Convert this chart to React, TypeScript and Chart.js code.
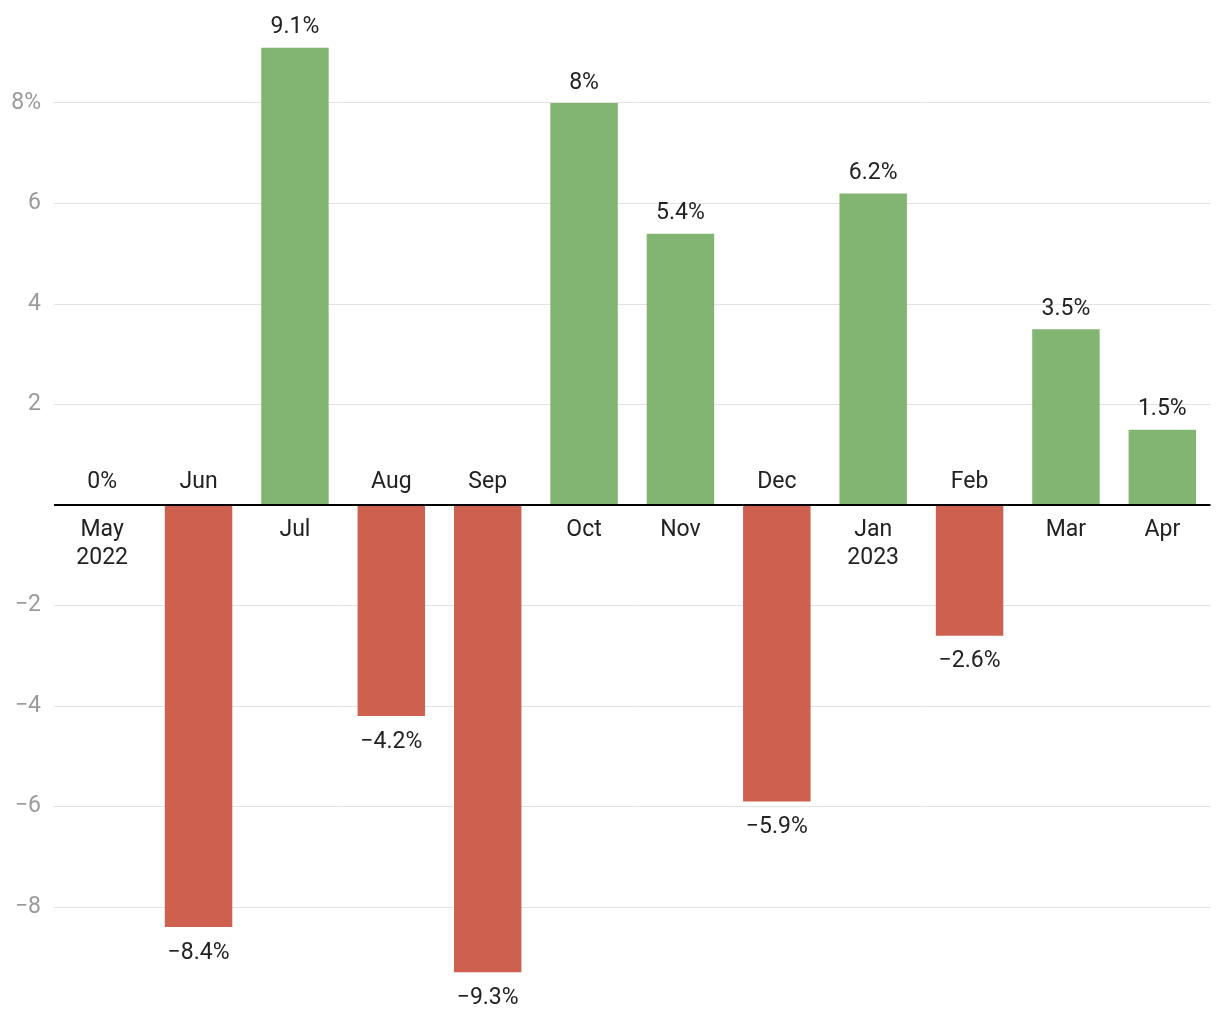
import React, { useEffect, useRef } from "react";
import { Chart, registerables } from "chart.js";

Chart.register(...registerables);

const categories: string[][] = [["May", "2022"], ["Jun"], ["Jul"], ["Aug"], ["Sep"], ["Oct"], ["Nov"], ["Dec"], ["Jan", "2023"], ["Feb"], ["Mar"], ["Apr"]];
const values: number[] = [0, -8.4, 9.1, -4.2, -9.3, 8, 5.4, -5.9, 6.2, -2.6, 3.5, 1.5];
const tickValues: number[] = [-8, -6, -4, -2, 0, 2, 4, 6, 8];

const GREEN = "#83b572";
const RED = "#cd604e";
const FONT = "Roboto, 'Noto Sans', sans-serif";

const fmt = (v: number) => {
  const s = Math.abs(v).toString() + "%";
  return v < 0 ? "\u2212" + s : s;
};

const labelPlugin = {
  id: "labels",
  afterDatasetsDraw(chart: any) {
    const ctx = chart.ctx;
    const meta = chart.getDatasetMeta(0);
    const y = chart.scales.y;
    const zero = y.getPixelForValue(0);
    ctx.save();
    ctx.strokeStyle = "#000";
    ctx.lineWidth = 2;
    ctx.beginPath();
    ctx.moveTo(chart.chartArea.left, zero);
    ctx.lineTo(chart.chartArea.right, zero);
    ctx.stroke();
    ctx.font = `23px ${FONT}`;
    ctx.fillStyle = "#222";
    ctx.textAlign = "center";
    ctx.textBaseline = "middle";
    values.forEach((v, i) => {
      const bar = meta.data[i];
      const x = bar.x;
      const lines = categories[i];
      if (v < 0) {
        lines.forEach((l, k) => ctx.fillText(l, x, zero - 23 - (lines.length - 1 - k) * 28));
        ctx.fillText(fmt(v), x, y.getPixelForValue(v) + 26);
      } else {
        lines.forEach((l, k) => ctx.fillText(l, x, zero + 25 + k * 28));
        ctx.fillText(fmt(v), x, y.getPixelForValue(v) - (v === 0 ? 23 : 20));
      }
    });
    ctx.restore();
  },
};

export default function App() {
  const ref = useRef<HTMLCanvasElement>(null);
  useEffect(() => {
    if (!ref.current) return;
    const chart = new Chart(ref.current, {
      type: "bar",
      data: {
        labels: categories.map((c) => c.join(" ")),
        datasets: [
          {
            data: values,
            backgroundColor: values.map((v) => (v >= 0 ? GREEN : RED)),
            barPercentage: 0.7,
            categoryPercentage: 1,
          },
        ],
      },
      options: {
        animation: false,
        responsive: false,
        maintainAspectRatio: false,
        layout: { padding: { top: 2.5, bottom: 12.5, right: 9.5, left: 0 } },
        plugins: { legend: { display: false }, tooltip: { enabled: false } },
        scales: {
          x: { display: false },
          y: {
            min: -10,
            max: 10,
            afterFit: (s: any) => {
              s.width = 54;
              s.paddingTop = 0;
              s.paddingBottom = 0;
            },
            afterBuildTicks: (s: any) => {
              s.ticks = tickValues.map((v) => ({ value: v }));
            },
            border: { display: false },
            grid: {
              drawTicks: false,
              color: (c: any) => (c.tick && c.tick.value === 0 ? "rgba(0,0,0,0)" : "#e2e2e2"),
              lineWidth: 1,
            } as any,
            ticks: {
              padding: 13,
              color: "#9a9a9a",
              font: { family: FONT, size: 23 },
              callback: (v: any) => {
                if (v === 0) return "";
                if (v === 8) return "8%";
                return v < 0 ? "\u2212" + Math.abs(v) : String(v);
              },
            },
          },
        },
      },
      plugins: [labelPlugin],
    });
    return () => chart.destroy();
  }, []);
  return (
    <div style={{ position: "fixed", left: 0, top: 0, width: 1220, height: 1020, background: "#fff" }}>
      <canvas ref={ref} width={1220} height={1020} style={{ width: 1220, height: 1020 }} />
    </div>
  );
}
